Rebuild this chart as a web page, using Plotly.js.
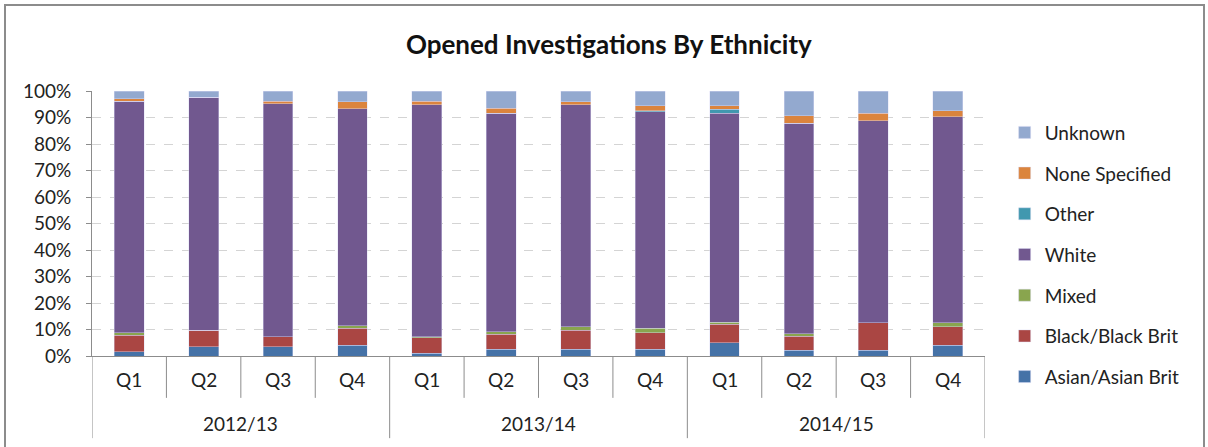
<!DOCTYPE html>
<html>
<head>
<meta charset="utf-8">
<script src="https://cdn.plot.ly/plotly-3.0.1.min.js"></script>
<style>
  body { margin: 0; background: #fff; }
  #chart { position: absolute; left: 0; top: 0; width: 1208px; height: 447px; }
  #frame { position: absolute; left: 4px; top: 4px; width: 1197px; height: 470px;
           border: 2px solid #8c8c8c; pointer-events: none; }
</style>
</head>
<body>
<div id="chart"></div>
<div id="frame"></div>
<script>
// categories
const years    = ['2012/13','2012/13','2012/13','2012/13','2013/14','2013/14','2013/14','2013/14','2014/15','2014/15','2014/15','2014/15'];
const quarters = ['Q1','Q2','Q3','Q4','Q1','Q2','Q3','Q4','Q1','Q2','Q3','Q4'];
const yTicks   = [0, 10, 20, 30, 40, 50, 60, 70, 80, 90, 100];

// share of opened investigations, %
const asian   = [1.6, 3.5, 3.5, 4.0, 1.1, 2.6, 2.6, 2.6, 5.0, 2.1, 2.1, 4.1];
const black   = [6.2, 6.2, 3.8, 6.5, 5.7, 5.6, 7.1, 6.2, 7.0, 5.3, 10.4, 6.9];
const mixed   = [1.0, 0.0, 0.0, 1.0, 0.5, 1.0, 1.3, 1.7, 0.7, 1.0, 0.0, 1.5];
const white   = [87.4, 88.0, 87.9, 81.8, 87.6, 82.4, 83.9, 81.7, 78.9, 79.4, 76.3, 77.7];
const other   = [0.0, 0.0, 0.0, 0.0, 0.0, 0.0, 0.0, 0.3, 1.5, 0.0, 0.0, 0.0];
const noneSp  = [0.8, 0.0, 1.0, 2.6, 1.3, 1.9, 1.0, 2.0, 1.4, 2.9, 2.8, 2.4];
const unknown = [3.0, 2.3, 3.8, 4.1, 3.8, 6.5, 4.1, 5.5, 5.5, 9.3, 8.4, 7.4];

const seriesNames  = ['Asian/Asian Brit', 'Black/Black Brit', 'Mixed', 'White', 'Other', 'None Specified', 'Unknown'];
const seriesValues = [asian, black, mixed, white, other, noneSp, unknown];
const seriesColors = ['#4572a7', '#aa4643', '#89a54e', '#71588f', '#4198af', '#db843d', '#93a9cf'];

const FONT = 'Lato, "Open Sans", sans-serif';
const TXT = '#222';
const AXIS = '#8c8c8c';

const idx = quarters.map((q, i) => i);

let traces = seriesNames.map((name, i) => ({
    type: 'bar',
    name: name,
    x: idx,
    y: seriesValues[i],
    legendgroup: name,
    legendrank: seriesNames.length - i,
    marker: { color: seriesColors[i], line: { color: 'rgba(220,220,245,0.7)', width: 0.6 } },
    hoverinfo: 'skip'
}));

// category labels (two rows) and separator lines below the axis
let annotations = [];
let shapes = [];
idx.forEach(i => {
    annotations.push({
        x: i, xref: 'x', y: -0.09, yref: 'paper',
        text: quarters[i], showarrow: false,
        xanchor: 'center', yanchor: 'middle',
        font: { family: FONT, size: 19, color: TXT }
    });
});
[...new Set(years)].forEach(yr => {
    const members = idx.filter(i => years[i] === yr);
    const mid = (members[0] + members[members.length - 1]) / 2;
    annotations.push({
        x: mid, xref: 'x', y: -0.253, yref: 'paper',
        text: yr, showarrow: false,
        xanchor: 'center', yanchor: 'middle',
        font: { family: FONT, size: 19, color: TXT }
    });
});
for (let i = 0; i <= idx.length; i++) {
    const yearEdge = (i === 0 || i === idx.length || years[i] !== years[i - 1]);
    shapes.push({
        type: 'line', xref: 'x', yref: 'paper',
        x0: i - 0.5, x1: i - 0.5, y0: 0, y1: yearEdge ? -0.31 : -0.158,
        line: { color: AXIS, width: 1 }
    });
}

let layout = {
    width: 1208,
    height: 447,
    barmode: 'stack',
    bargap: 0.6,
    paper_bgcolor: '#fff',
    plot_bgcolor: '#fff',
    margin: { l: 92, r: 223, t: 91, b: 91, pad: 0, autoexpand: false },
    font: { family: FONT, size: 19, color: TXT },
    title: {
        text: '<b>Opened Investigations By Ethnicity</b>',
        font: { family: FONT, size: 26, color: '#111' },
        x: 0.504, xref: 'container', xanchor: 'center',
        y: 0.9, yref: 'container', yanchor: 'middle'
    },
    xaxis: {
        range: [-0.5, idx.length - 0.5],
        showticklabels: false,
        ticks: '',
        showline: true,
        linecolor: AXIS,
        showgrid: false,
        zeroline: false
    },
    yaxis: {
        range: [0, 100],
        tickmode: 'array',
        tickvals: yTicks,
        ticktext: yTicks.map(v => v + '%'),
        showline: true,
        linecolor: AXIS,
        ticks: 'outside',
        ticklen: 5,
        tickcolor: AXIS,
        ticklabelstandoff: 11,
        showgrid: true,
        gridcolor: '#d4d4d4',
        griddash: 'dash',
        zeroline: false,
        tickfont: { family: FONT, size: 19, color: TXT }
    },
    legend: {
        x: 1.022, xanchor: 'left',
        y: 0.746, yref: 'container', yanchor: 'top',
        maxheight: 1,
        traceorder: 'grouped',
        tracegroupgap: 13,
        font: { family: FONT, size: 19, color: TXT },
        itemwidth: 30
    },
    annotations: annotations,
    shapes: shapes,
    showlegend: true
};

Plotly.newPlot(document.querySelector('#chart'), traces, layout, { staticPlot: true });
</script>
</body>
</html>
